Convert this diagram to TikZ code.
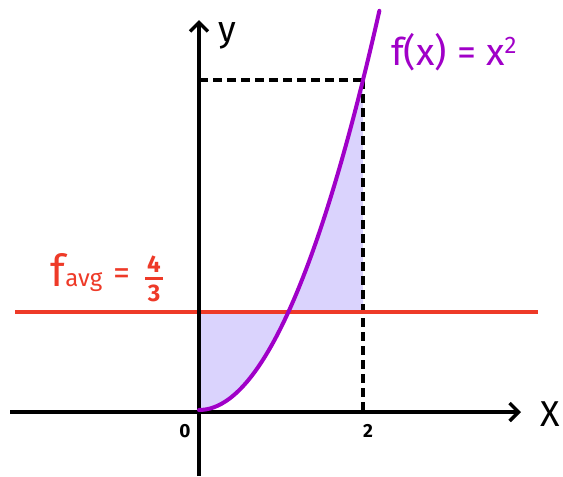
\documentclass[tikz,border=0pt]{standalone}
\usepackage{fontspec}
\setmainfont{Fira Sans}
\usetikzlibrary{arrows.meta}
\definecolor{fpurple}{HTML}{A000C8}
\definecolor{fred}{HTML}{EE3A28}
\definecolor{ffill}{HTML}{DAD3FD}
\tikzset{
  axis/.style={line width=4pt, -{Straight Barb[length=9pt,width=18pt,line width=3.5pt]}},
  guide/.style={line width=3.2pt, dash pattern=on 9pt off 5pt},
  lbl/.style={inner sep=0pt, font=\fontsize{36}{36}\selectfont},
  tick/.style={inner sep=0pt, font=\fontsize{19}{19}\selectfont\bfseries},
  redtxt/.style={inner sep=0pt, text=fred},
}
\begin{document}
\begin{tikzpicture}[x=1pt,y=-1pt]
\useasboundingbox (0,0) rectangle (563,477);
% coordinates
\coordinate (O) at (199,412);
\coordinate (ybot) at (199,476);
\coordinate (ytop) at (199,20);
\coordinate (xleft) at (10,412);
\coordinate (xright) at (521,412);
\coordinate (P) at (363,80);
\coordinate (Px) at (363,412);
\coordinate (Py) at (199,80);
\coordinate (rl) at (15,312);
\coordinate (rr) at (538,312);
% fill
\fill[ffill] (199,312) -- (199,410) -- plot[smooth,domain=0:2,samples=40] ({199+82*\x},{410-82.5*\x*\x}) -- (363,312) -- cycle;
% dashed guides
\draw[guide] (Py) -- (P);
\draw[guide] (P) -- (Px);
% red line
\draw[fred, line width=4pt] (rl) -- (rr);
% axes
\draw[axis] (ybot) -- (ytop);
\draw[axis] (xleft) -- (xright);
% curve
\draw[fpurple, line width=4pt, line cap=round] plot[smooth,domain=0:2.2,samples=50] ({199+82*\x},{410-82.5*\x*\x});
% labels
\node[lbl] (ylab) at (227,36) {y};
\node[lbl] (xlab) at (550,414) {X};
\node[tick] (zero) at (185,431) {0};
\node[tick] (two) at (368,431) {2};
\node[lbl, text=fpurple, anchor=base west, font=\fontsize{38}{38}\selectfont] (flab) at (391,65) {f(x) = x\raisebox{0.55ex}{\fontsize{24}{24}\selectfont 2}};
% f_avg = 4/3
\node[redtxt, anchor=base west, font=\fontsize{44}{44}\selectfont] (fsym) at (50,286) {f};
\node[redtxt, anchor=base west, font=\fontsize{24}{24}\selectfont] (avg) at (fsym.base east) {avg};
\node[redtxt, font=\fontsize{34}{34}\selectfont] (eq) at (122,277) {=};
\node[redtxt, font=\fontsize{24}{24}\selectfont\bfseries] (four) at (154,264) {4};
\node[redtxt, font=\fontsize{24}{24}\selectfont\bfseries] (three) at (154,293) {3};
\draw[fred, line width=3pt] (145,278) -- (163,278);
\end{tikzpicture}
\end{document}
